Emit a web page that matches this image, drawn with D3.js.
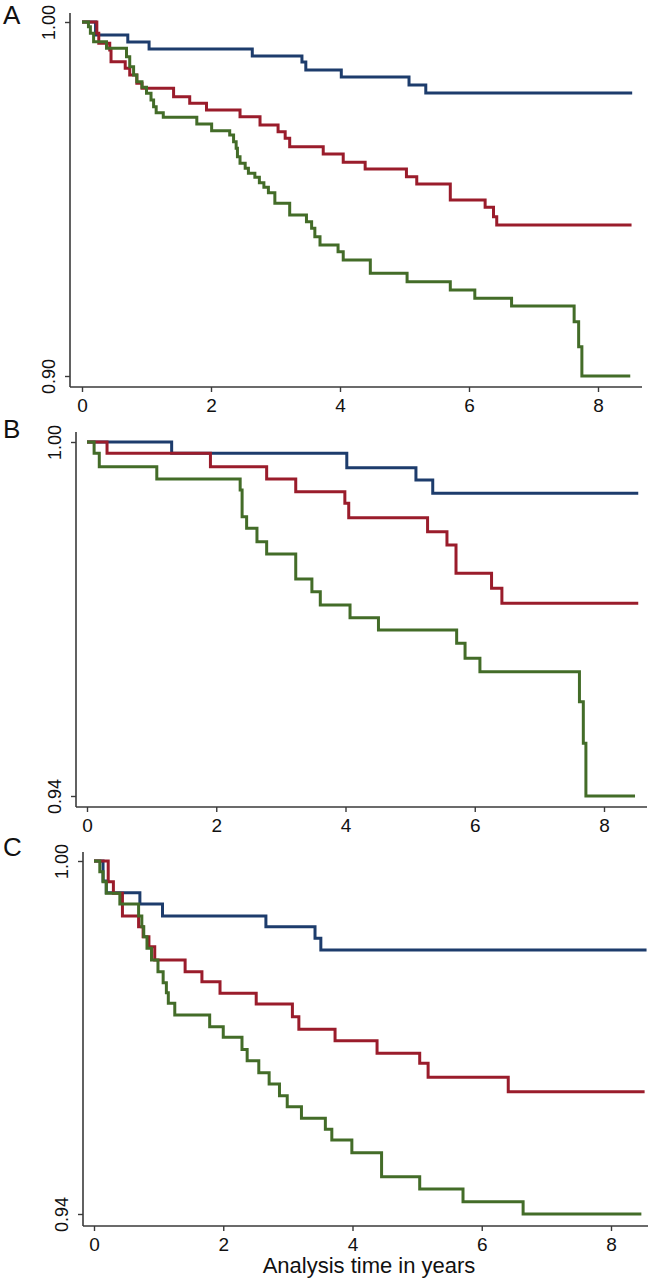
<!DOCTYPE html>
<html><head><meta charset="utf-8">
<script src="https://cdn.jsdelivr.net/npm/d3@7"></script>
<style>
body{margin:0;background:#fff}
svg{display:block}
text{font-family:"Liberation Sans",Arial,sans-serif;fill:#111}
</style>
</head><body>
<svg id="chart" width="659" height="1280"></svg>
<script>
// ---------- data ----------
const panelLetters = ["A", "B", "C"];
const xTicks = [0, 2, 4, 6, 8];
const yTicksA = [0.90, 1.00];
const yTicksB = [0.94, 1.00];
const yTicksC = [0.94, 1.00];
const xTitle = "Analysis time in years";
const seriesNames = ["blue", "red", "green"];

// [time in years, survival]
const blueA = [[0,1],[0.21,0.9963],[0.71,0.99435],[1.04,0.99237],[2.64,0.9904],[3.41,0.9887],[3.47,0.98644],[4.02,0.98446],[5.07,0.9822],[5.33,0.97994],[8.53,0.97994]];
const redA = [[0,1],[0.23,0.9968],[0.26,0.99397],[0.43,0.99209],[0.45,0.98879],[0.67,0.98691],[0.74,0.98503],[0.85,0.98267],[0.93,0.98126],[1.42,0.97891],[1.67,0.97703],[1.93,0.97514],[2.45,0.97326],[2.76,0.9709],[3.04,0.96902],[3.15,0.96714],[3.22,0.96478],[3.74,0.96271],[4.05,0.96036],[4.39,0.95847],[5.03,0.95631],[5.19,0.95424],[5.71,0.94972],[6.25,0.94765],[6.38,0.94501],[6.43,0.94266],[8.52,0.94266]];
const greenA = [[0,1],[0.10,0.99868],[0.13,0.9968],[0.18,0.99444],[0.38,0.99256],[0.69,0.99021],[0.74,0.98738],[0.80,0.98503],[0.85,0.98314],[0.93,0.98155],[1.00,0.97985],[1.07,0.97797],[1.11,0.97608],[1.15,0.97439],[1.26,0.97307],[1.78,0.97119],[2.01,0.9693],[2.29,0.96808],[2.35,0.96619],[2.39,0.96431],[2.41,0.96196],[2.45,0.96008],[2.53,0.95866],[2.58,0.95725],[2.68,0.95612],[2.75,0.95461],[2.82,0.9533],[2.89,0.95179],[2.99,0.94878],[3.22,0.94548],[3.48,0.94359],[3.56,0.94171],[3.61,0.93936],[3.69,0.93701],[3.97,0.93512],[4.05,0.93277],[4.47,0.929],[5.04,0.92665],[5.71,0.92429],[6.09,0.92194],[6.66,0.91977],[7.63,0.91534],[7.70,0.90828],[7.75,0.9],[8.50,0.9]];

const blueB = [[0,1],[1.31,0.99808],[4.02,0.99565],[5.09,0.99356],[5.35,0.9913],[8.53,0.9913]];
const redB = [[0,1],[0.31,0.99808],[1.91,0.99582],[2.78,0.99373],[3.23,0.99158],[3.99,0.9896],[4.05,0.98717],[5.27,0.9848],[5.57,0.98254],[5.71,0.97774],[6.26,0.9752],[6.42,0.97266],[8.53,0.97266]];
const greenB = [[0,1],[0.11,0.99808],[0.19,0.99582],[1.08,0.99373],[2.37,0.99186],[2.40,0.98734],[2.47,0.98537],[2.63,0.9831],[2.78,0.98102],[3.23,0.97678],[3.48,0.97463],[3.61,0.97237],[4.07,0.97022],[4.51,0.96814],[5.72,0.96588],[5.85,0.96333],[6.08,0.96107],[7.62,0.95598],[7.68,0.94893],[7.72,0.94],[8.48,0.94]];

const blueC = [[0,1],[0.14,0.9966],[0.19,0.99462],[0.71,0.99269],[1.06,0.99065],[2.66,0.98884],[3.42,0.98686],[3.51,0.98487],[8.55,0.98487]];
const redC = [[0,1],[0.22,0.99649],[0.30,0.99451],[0.44,0.99065],[0.69,0.98884],[0.76,0.98714],[0.85,0.98544],[0.94,0.98317],[1.41,0.98119],[1.67,0.97948],[1.95,0.97751],[2.51,0.97569],[3.07,0.97354],[3.17,0.97139],[3.73,0.96946],[4.38,0.96731],[5.04,0.96561],[5.17,0.96323],[6.41,0.96079],[8.52,0.96079]];
const greenC = [[0,1],[0.09,0.99819],[0.14,0.99649],[0.19,0.99451],[0.40,0.99269],[0.69,0.99065],[0.74,0.98884],[0.77,0.98714],[0.82,0.98516],[0.89,0.98317],[0.99,0.98119],[1.07,0.97931],[1.12,0.97761],[1.15,0.97581],[1.25,0.97382],[1.79,0.97184],[2.00,0.97003],[2.29,0.96796],[2.37,0.96606],[2.55,0.96402],[2.71,0.96209],[2.87,0.96011],[2.99,0.95824],[3.21,0.95627],[3.58,0.95439],[3.68,0.95257],[3.99,0.95042],[4.45,0.94634],[5.04,0.94425],[5.71,0.94209],[6.64,0.94],[8.47,0.94]];

// ---------- layout & style ----------
const colors = {blue: "#1d3c6c", red: "#9a1c2b", green: "#436c28"};
const panels = [
  {letter: panelLetters[0], yTicks: yTicksA, series: [blueA, redA, greenA],
   x0: 82, x8: 598, left: 70, right: 642, top: 13, bottom: 387, yHi: 22, yLo: 376, letterY: 24},
  {letter: panelLetters[1], yTicks: yTicksB, series: [blueB, redB, greenB],
   x0: 87, x8: 604, left: 76, right: 647, top: 432, bottom: 807, yHi: 442, yLo: 796, letterY: 438},
  {letter: panelLetters[2], yTicks: yTicksC, series: [blueC, redC, greenC],
   x0: 94, x8: 611, left: 83, right: 648, top: 852, bottom: 1226, yHi: 861, yLo: 1214, letterY: 856}
];
const axisColor = "#3a3a3a";

const svg = d3.select("#chart");
const fmt = d3.format(".2f");

panels.forEach(p => {
  const x = d3.scaleLinear().domain([0, 8]).range([p.x0, p.x8]);
  const y = d3.scaleLinear().domain([p.yTicks[0], p.yTicks[1]]).range([p.yLo, p.yHi]);
  const g = svg.append("g");

  // axis lines
  g.append("line").attr("x1", p.left).attr("x2", p.left).attr("y1", p.top).attr("y2", p.bottom)
    .attr("stroke", axisColor).attr("stroke-width", 1.6);
  g.append("line").attr("x1", p.left).attr("x2", p.right).attr("y1", p.bottom).attr("y2", p.bottom)
    .attr("stroke", axisColor).attr("stroke-width", 1.6);

  // x axis
  const xa = g.append("g").attr("transform", `translate(0,${p.bottom})`)
    .call(d3.axisBottom(x).tickValues(xTicks).tickSize(5).tickSizeOuter(0).tickPadding(7).tickFormat(d3.format("d")));
  xa.select(".domain").remove();
  xa.selectAll("line").attr("stroke", axisColor).attr("stroke-width", 1.4);
  xa.selectAll("text").attr("font-size", 19).attr("fill", "#111")
    .style("font-family", '"Liberation Sans", Arial, sans-serif');

  // y axis
  const ya = g.append("g").attr("transform", `translate(${p.left},0)`)
    .call(d3.axisLeft(y).tickValues(p.yTicks).tickSize(5).tickSizeOuter(0).tickFormat(fmt));
  ya.select(".domain").remove();
  ya.selectAll("line").attr("stroke", axisColor).attr("stroke-width", 1.4);
  ya.selectAll("text").attr("x", null).attr("dy", null)
    .attr("transform", "translate(-15,0) rotate(-90)")
    .attr("text-anchor", "middle").attr("font-size", 18).attr("fill", "#111")
    .style("font-family", '"Liberation Sans", Arial, sans-serif');

  // panel letter
  g.append("text").attr("x", 3).attr("y", p.letterY).attr("font-size", 26).text(p.letter);

  // survival curves
  const line = d3.line().x(d => x(d[0])).y(d => y(d[1])).curve(d3.curveStepAfter);
  p.series.forEach((s, i) => {
    g.append("path").datum(s).attr("d", line)
      .attr("fill", "none").attr("stroke", colors[seriesNames[i]])
      .attr("stroke-width", 3).attr("stroke-linejoin", "miter").attr("stroke-linecap", "butt");
  });
});

svg.append("text").attr("x", 369).attr("y", 1273).attr("text-anchor", "middle")
  .attr("font-size", 22).text(xTitle);
</script>
</body></html>
